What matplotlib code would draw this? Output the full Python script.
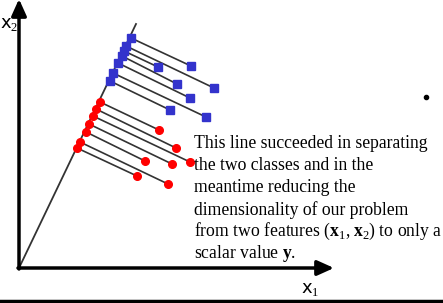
import matplotlib.pyplot as plt

plt.rcParams['mathtext.fontset'] = 'custom'
plt.rcParams['mathtext.rm'] = 'Liberation Serif'
plt.rcParams['mathtext.bf'] = 'Liberation Serif:bold'

# projection line (direction w)
line_end = (117, 244)

# blue class: projected points on the line and original points
blue_proj_x = [112, 107, 105, 103, 99, 94, 91]
blue_proj_y = [230, 222, 217, 212, 205, 195, 187]
blue_x = [172, 195, 139, 158, 171, 187, 151]
blue_y = [202, 180, 201, 184, 170, 151, 158]

# red class
red_proj_x = [81, 77, 74, 70, 67, 61, 58]
red_proj_y = [166, 159, 152, 144, 136, 126, 120]
red_x = [140, 157, 171, 153, 126, 149, 118]
red_y = [138, 120, 106, 104, 107, 84, 92]

caption = [
    "This line succeeded in separating",
    "the two classes and in the",
    "meantime reducing the",
    "dimensionality of our problem",
    r"from two features $(\mathbf{x}_1,\mathbf{x}_2)$ to only a",
    r"scalar value $\mathbf{y}$.",
]

fig = plt.figure(figsize=(4.43, 3.03), dpi=100)
ax = fig.add_axes([0, 0, 1, 1])
ax.set_xlim(-19, 424)
ax.set_ylim(-35, 268)
ax.axis('off')

# axes arrows
arrow = dict(arrowstyle='-|>,head_length=1.0,head_width=0.45',
             color='black', lw=2.5, shrinkA=0, shrinkB=0)
ax.annotate('', xy=(0, 269), xytext=(0, -1), arrowprops=arrow, annotation_clip=False)
ax.annotate('', xy=(315, 0), xytext=(-1, 0), arrowprops=arrow, annotation_clip=False)
ax.text(-10, 244, r'x$_2$', fontsize=13, ha='center', va='center', family='DejaVu Sans')
ax.text(291, -21, r'x$_1$', fontsize=13, ha='center', va='center', family='DejaVu Sans')

# projection line
ax.plot([0, line_end[0]], [0, line_end[1]], color='#333333', lw=1.3)

# connecting segments
for px, py, qx, qy in zip(blue_proj_x, blue_proj_y, blue_x, blue_y):
    ax.plot([px, qx], [py, qy], color='#333333', lw=1.2)
for px, py, qx, qy in zip(red_proj_x, red_proj_y, red_x, red_y):
    ax.plot([px, qx], [py, qy], color='#333333', lw=1.2)

ax.plot(blue_proj_x + blue_x, blue_proj_y + blue_y, 's', color='#3333cc', ms=6, lw=0)
ax.plot(red_proj_x + red_x, red_proj_y + red_y, 'o', color='#ff0000', ms=5.5, lw=0)

# caption
for i, line in enumerate(caption):
    ax.text(175, 125 - i * 22.2, line, fontsize=12.7, family='Liberation Serif',
            ha='left', va='center')

# bullet and bottom rule
ax.plot([407], [171], 'o', color='black', ms=3)
ax.plot([-19, 424], [-33, -33], color='black', lw=2.5)

fig.savefig('out.png', dpi=100)
